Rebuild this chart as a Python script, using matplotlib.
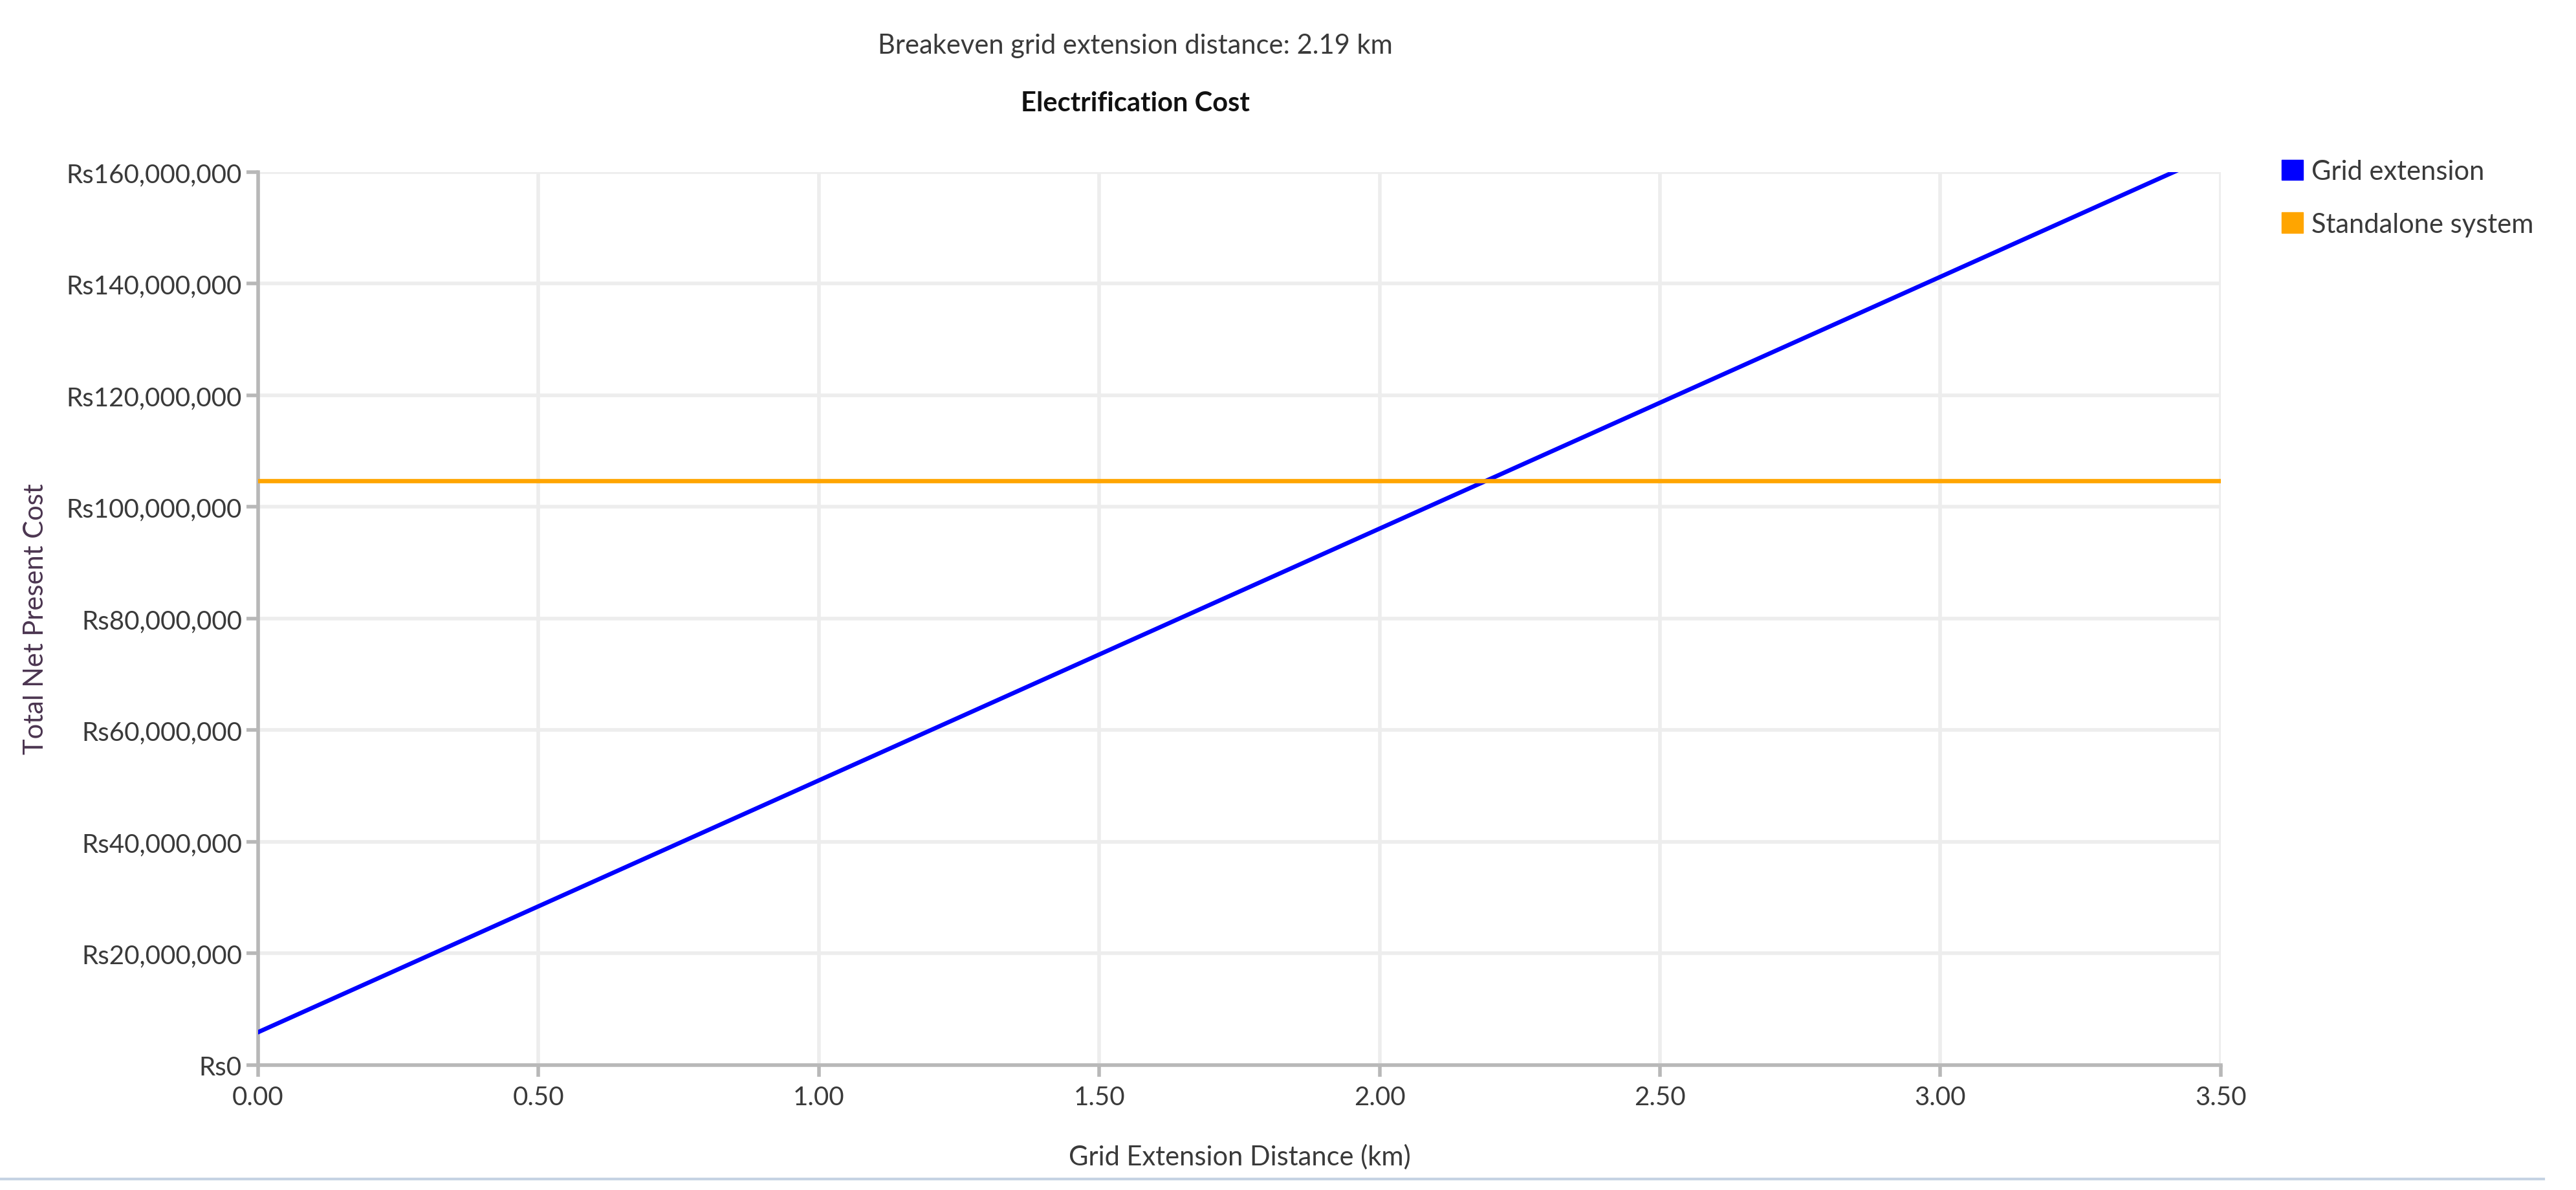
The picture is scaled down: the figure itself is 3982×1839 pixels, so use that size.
import matplotlib
matplotlib.use('Agg')
import matplotlib.pyplot as plt
from matplotlib.lines import Line2D
from matplotlib.patches import Patch
from matplotlib.ticker import FuncFormatter, MultipleLocator

plt.rcParams['font.family'] = ['Lato', 'DejaVu Sans']

# data
distance_km = [0.0, 3.5]
grid_cost = [5.9e6, 163.8e6]
standalone_cost = [104.7e6, 104.7e6]
breakeven_km = 2.19

series_labels = ['Grid extension', 'Standalone system']
series_colors = ['#0000FF', '#FFA500']

TEXT = '#3a3a3a'


def main():
    fig = plt.figure(figsize=(39.82, 18.40), dpi=100)
    ax = fig.add_axes([0.1002, 0.1049, 0.7619, 0.7500])

    ax.plot(distance_km, grid_cost, color=series_colors[0], lw=4.8, zorder=3)
    ax.plot(distance_km, standalone_cost, color=series_colors[1], lw=4.8, zorder=3)

    ax.set_xlim(0, 3.5)
    ax.set_ylim(0, 160e6)
    ax.xaxis.set_major_locator(MultipleLocator(0.5))
    ax.yaxis.set_major_locator(MultipleLocator(20e6))
    ax.xaxis.set_major_formatter(FuncFormatter(lambda v, p: f'{v:.2f}'))
    ax.yaxis.set_major_formatter(FuncFormatter(lambda v, p: f'Rs{v:,.0f}'))

    ax.grid(True, color='#EDEDED', lw=4, zorder=0)
    ax.set_axisbelow(True)
    for s in ['top', 'right']:
        ax.spines[s].set_visible(False)
    for s in ['left', 'bottom']:
        ax.spines[s].set_color('#B8B8B8')
        ax.spines[s].set_linewidth(4)
    ax.tick_params(axis='both', length=13, width=4, color='#B8B8B8',
                   labelsize=29, labelcolor=TEXT)
    ax.tick_params(axis='y', pad=5)
    ax.tick_params(axis='x', pad=9)

    ax.set_xlabel('Grid Extension Distance (km)', fontsize=30, color=TEXT)
    ax.xaxis.set_label_coords(0.5, -0.088)
    ax.set_ylabel('Total Net Present Cost', fontsize=30, color='#4b3550')
    ax.yaxis.set_label_coords(-0.107, 0.5)

    fig.text(1755 / 3982, 1 - 71 / 1840,
             f'Breakeven grid extension distance: {breakeven_km:.2f} km',
             ha='center', va='center', fontsize=30, color=TEXT)
    fig.text(1755 / 3982, 1 - 160 / 1840, 'Electrification Cost',
             ha='center', va='center', fontsize=30, fontweight='bold', color='#111111')

    handles = [Patch(facecolor=c, edgecolor=c) for c in series_colors]
    fig.legend(handles, series_labels, loc='upper left',
               bbox_to_anchor=(3527 / 3982, 1 - 247 / 1840),
               frameon=False, fontsize=30, labelcolor=TEXT,
               handlelength=0.8, handleheight=0.8, handletextpad=0.3,
               labelspacing=1.05, borderaxespad=0, borderpad=0)

    fig.add_artist(Line2D([0, 3932 / 3982], [1 - 1823 / 1840] * 2,
                          transform=fig.transFigure, color='#C5D3E3', lw=3))

    fig.savefig('out.png', dpi=100, facecolor='white')


if __name__ == '__main__':
    main()
